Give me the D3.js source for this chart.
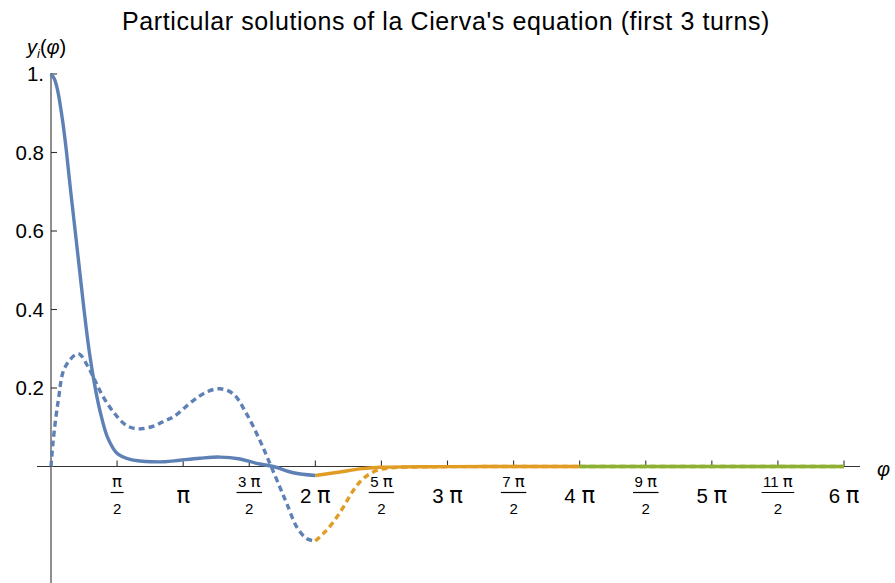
<!DOCTYPE html>
<html>
<head>
<meta charset="utf-8">
<script src="https://cdn.jsdelivr.net/npm/d3@7"></script>
<style>
  body { margin: 0; background: #fff; }
  svg { display: block; }
  text { font-family: "Liberation Sans", Arial, sans-serif; fill: #000; }
  tspan.pi { font-family: "DejaVu Sans", sans-serif; font-size: 1.1em; }
</style>
</head>
<body>
<svg id="chart" width="895" height="583"></svg>
<script>
// φ given in units of π
const titleText = "Particular solutions of la Cierva's equation (first 3 turns)";
const yTickValues = [0.2, 0.4, 0.6, 0.8, 1.0];
const yTickLabels = ["0.2", "0.4", "0.6", "0.8", "1."];
const xTickValues = [0.5, 1, 1.5, 2, 2.5, 3, 3.5, 4, 4.5, 5, 5.5, 6];
const xTickLabels = ["π/2", "π", "3 π/2", "2 π", "5 π/2", "3 π", "7 π/2", "4 π", "9 π/2", "5 π", "11 π/2", "6 π"];

// turn 1 (blue)
const turn1Phi    = [0, 0.025, 0.049, 0.087, 0.117, 0.148, 0.182, 0.216, 0.25, 0.288, 0.333, 0.374, 0.427, 0.499, 0.598, 0.673, 0.762, 0.862, 0.976, 1.127, 1.278, 1.43, 1.556, 1.682, 1.833, 2.0];
const turn1Solid  = [1.0, 0.988, 0.960, 0.883, 0.802, 0.704, 0.603, 0.501, 0.399, 0.297, 0.203, 0.137, 0.075, 0.034, 0.018, 0.014, 0.012, 0.012, 0.016, 0.021, 0.024, 0.019, 0.008, 0.0, -0.016, -0.023];
const turn1DashPhi = [0, 0.017, 0.055, 0.106, 0.207, 0.282, 0.333, 0.396, 0.484, 0.573, 0.66, 0.787, 0.862, 0.925, 1.076, 1.178, 1.278, 1.379, 1.48, 1.581, 1.657, 1.732, 1.785, 1.861, 1.936, 2.0];
const turn1Dashed  = [0, 0.067, 0.168, 0.253, 0.287, 0.253, 0.219, 0.177, 0.134, 0.104, 0.096, 0.104, 0.117, 0.126, 0.168, 0.19, 0.198, 0.185, 0.134, 0.066, 0.007, -0.053, -0.095, -0.155, -0.184, -0.19];

// turn 2 (orange)
const turn2Phi    = [2.0, 2.186, 2.337, 2.489, 2.75, 3.0, 3.5, 4.0];
const turn2Solid  = [-0.023, -0.014, -0.006, -0.002, -0.0008, -0.0003, -0.0001, 0];
const turn2DashPhi = [2.0, 2.06, 2.135, 2.211, 2.287, 2.362, 2.464, 2.589, 2.8, 3.0, 3.5, 4.0];
const turn2Dashed  = [-0.19, -0.171, -0.142, -0.104, -0.061, -0.031, -0.010, -0.003, -0.001, -0.0004, -0.0001, 0];

// turn 3 (green)
const turn3Phi    = [4.0, 4.5, 5.0, 5.5, 6.0];
const turn3Solid  = [0, 0, 0, 0, 0];
const turn3Dashed = [0, 0, 0, 0, 0];

const colors = ["#5E81B5", "#E19C24", "#8FB032"];

const svg = d3.select("#chart");
const x = d3.scaleLinear().domain([0, 6]).range([51, 844]);
const y = d3.scaleLinear().domain([0, 1]).range([466.5, 74]);

// title
svg.append("text").attr("x", 446).attr("y", 30).attr("text-anchor", "middle")
  .style("font-size", "25px").style("letter-spacing", "0.6px").text(titleText);

// axes
const axisColor = "#333";
svg.append("line").attr("x1", 37).attr("x2", 860).attr("y1", y(0)).attr("y2", y(0))
  .attr("stroke", axisColor).attr("stroke-width", 1.1);
svg.append("line").attr("x1", x(0)).attr("x2", x(0)).attr("y1", 73).attr("y2", 583)
  .attr("stroke", axisColor).attr("stroke-width", 1.1);

// y ticks
const yt = svg.append("g");
yTickValues.forEach((v, i) => {
  yt.append("line").attr("x1", x(0)).attr("x2", x(0) + 6).attr("y1", y(v)).attr("y2", y(v))
    .attr("stroke", axisColor).attr("stroke-width", 1.1);
  yt.append("text").attr("x", 44).attr("y", y(v) + 7).attr("text-anchor", "end")
    .style("font-size", "20.5px").text(yTickLabels[i]);
});

// helper: write label with π in a separate font
function writeLabel(t, s) {
  s.split(/(π)/).filter(p => p.length).forEach(p => {
    const ts = t.append("tspan").text(p);
    if (p === "π") ts.attr("class", "pi");
  });
}

// x ticks
const xt = svg.append("g");
xTickValues.forEach((v, i) => {
  const px = x(v);
  xt.append("line").attr("x1", px).attr("x2", px).attr("y1", y(0)).attr("y2", y(0) - 6)
    .attr("stroke", axisColor).attr("stroke-width", 1.1);
  const lab = xTickLabels[i];
  if (lab.includes("/")) {
    const [num, den] = lab.split("/");
    const t = xt.append("text").attr("x", px).attr("y", 486.5).attr("text-anchor", "middle")
      .style("font-size", "15px");
    writeLabel(t, num);
    const w = t.node().getComputedTextLength();
    xt.append("line").attr("x1", px - w / 2 - 1.5).attr("x2", px + w / 2 + 1.5)
      .attr("y1", 492.5).attr("y2", 492.5).attr("stroke", "#000").attr("stroke-width", 1.2);
    xt.append("text").attr("x", px).attr("y", 513.5).attr("text-anchor", "middle")
      .style("font-size", "15px").text(den);
  } else {
    const t = xt.append("text").attr("x", px).attr("y", 502.5).attr("text-anchor", "middle")
      .style("font-size", "20.5px");
    writeLabel(t, lab);
  }
});

// axis labels
const yl = svg.append("text").attr("x", 27).attr("y", 54).style("font-size", "20px");
yl.append("tspan").style("font-style", "italic").text("y");
yl.append("tspan").style("font-style", "italic").style("font-size", "13px").attr("dy", 4).text("i");
yl.append("tspan").attr("dy", -4).text("(");
yl.append("tspan").style("font-style", "italic").text("φ");
yl.append("tspan").text(")");
svg.append("text").attr("x", 877).attr("y", 476).style("font-size", "20px")
  .style("font-style", "italic").text("φ");

// curves
const line = d3.line().x(d => x(d[0])).y(d => y(d[1])).curve(d3.curveCatmullRom.alpha(0.5));
const series = [
  { phi: turn2Phi, val: turn2Solid, c: colors[1], dash: null },
  { phi: turn3Phi, val: turn3Dashed, c: colors[2], dash: "6,4" },
  { phi: turn3Phi, val: turn3Solid, c: colors[2], dash: null },
  { phi: turn2DashPhi, val: turn2Dashed, c: colors[1], dash: "6,4" },
  { phi: turn1Phi, val: turn1Solid, c: colors[0], dash: null },
  { phi: turn1DashPhi, val: turn1Dashed, c: colors[0], dash: "6,4" }
];
series.forEach(s => {
  const pts = s.phi.map((p, i) => [p, s.val[i]]);
  svg.append("path").attr("d", line(pts)).attr("fill", "none")
    .attr("stroke", s.c).attr("stroke-width", 3.4)
    .attr("stroke-dasharray", s.dash).attr("stroke-linejoin", "round");
});
</script>
</body>
</html>
